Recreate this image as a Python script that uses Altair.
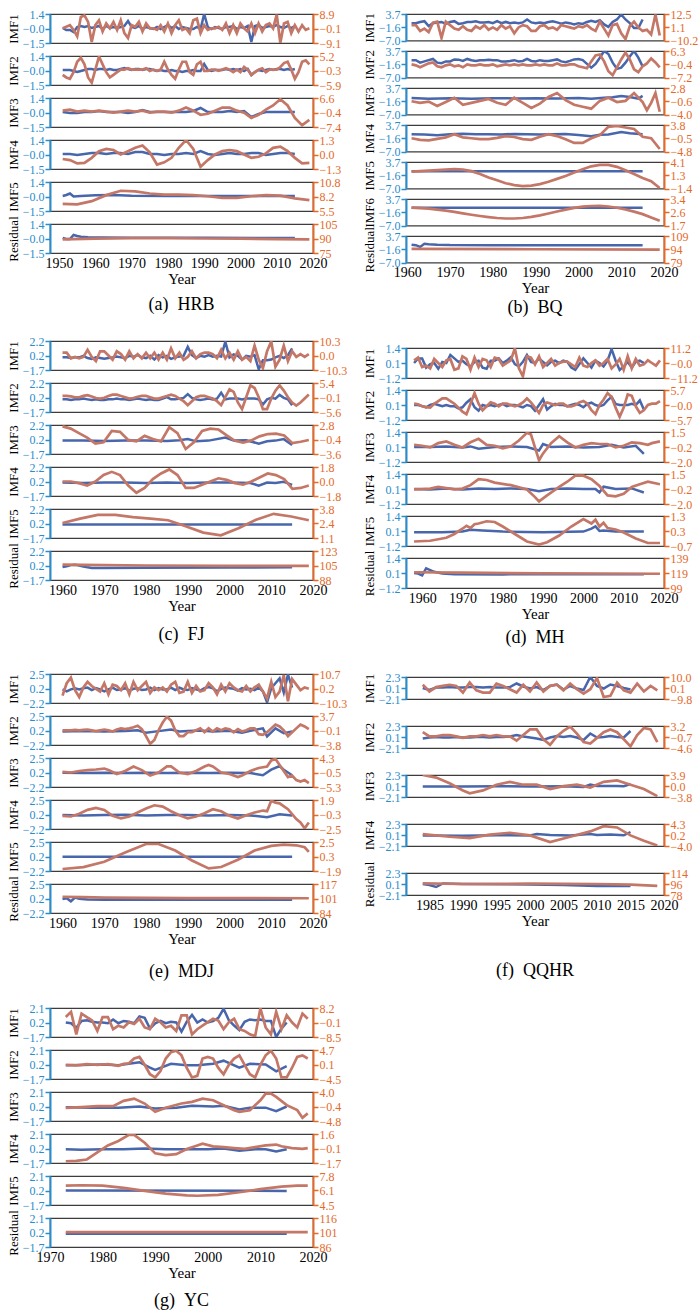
import altair as alt
import pandas as pd

FONT = "Liberation Serif"
BLUE_LINE = "#4866ab"
ORANGE_LINE = "#c47767"
BLUE_AX = "#2b8ccb"
ORANGE_AX = "#e36a2b"
FRAME = "#3c3c3c"

# ------------------------------------------------------------------ (a) HRB
A_XDOM = [1947.5, 2020]
A_XTICKS = [1950, 1960, 1970, 1980, 1990, 2000, 2010, 2020]
A_TITLES = ["IMF1", "IMF2", "IMF3", "IMF4", "IMF5", "Residual"]
A_LDOM = [-1.5, 1.4]
A_LLAB = ["1.4", "\u22120.0", "\u22121.5"]
A_RDOMS = [[-9.1, 8.9], [-5.9, 5.2], [-7.4, 6.6], [-1.3, 1.3], [5.5, 10.8], [75, 105]]
A_RLABS = [["8.9", "\u22120.1", "\u22129.1"], ["5.2", "\u22120.3", "\u22125.9"], ["6.6", "\u22120.4", "\u22127.4"],
           ["1.3", "0.0", "\u22121.3"], ["10.8", "8.2", "5.5"], ["105", "90", "75"]]
A_B1 = [0, -0.2, -0.2, -0.4, 0.1, 0.2, 0.1, 0.2, 0, 0.1, 0.2, -0.1, 0.2, 0, 0.1, 0, 0.1, 0.2, 0.7, 0.1,
        0, 0.2, -0.1, 0.1, 0, -0.1, 0.1, -0.1, 0.1, 0.3, 0, 0.2, -0.1, 0.1, 0, -0.1, -0.1, 0.1, -0.1, 1.4,
        0.1, -0.1, 0.1, 0, -0.1, 0.1, 0.1, 0.2, -0.1, 0.1, 0, 0.2, -1.4, 0.2, 0.3, 0, 0.1, 0.2, 0.1, 0.3,
        0.1, 0, 0.2, 0, 0.2]
A_O1 = [0, 1, 2, -1, -5, 7, 8, 4, -8.5, 2, 5, -2, 3, 0, 4, -1, 5, -3, -6, 2, 1, 4, -2, 3, 0, 0, -1, 2, -2, 3,
        -3, 2, 5, -1, 0, -3, 5, 6, -3, 2, -1, 0, 0, 1, -1, 3, -3, 2, -3, 3, 0, -2, 3, -3, 3, -2, 2, 3, 0, 8.5,
        -9, 3, 4, -3, 2, -2, 2, -1, 0]
A_B2 = [0, 0, 0, -0.1, -0.2, -0.1, 0, 0.1, 0.1, 0, 0.1, 0.1, 0, 0.1, 0, 0, 0.1, 0.2, 0.1, 0,
        0.1, 0.1, 0, 0.1, 0.1, 0, -0.1, 0, -0.1, -0.1, 0, -0.1, -0.1, -0.2, -0.1, -0.1, 0, -0.1, -0.1, 0.6,
        0, -0.1, 0, 0, 0, 0.1, 0, 0.1, 0, 0.1, -0.1, 0.1, -0.5, -0.2, 0, -0.1, 0, 0.1, 0, 0.1,
        0.1, 0, 0.1, 0, 0.1]
A_O2 = [-2, -3, -3.5, -1, 3, 4.5, 2, -3, -5, 0, 5, 2, -1, -3, -2, -1, 0, 0, 0.5, 0, 0, 0, 0, 0.5, -0.5, 0, -0.5, 0, 3, 0,
        -2, -3.5, 0, 3, 3, -1, -2, 2, 3, -0.5, -0.5, 0, 0, -0.5, 0, 0.5, 0, -1, 0, -1, 1, 0, -2, -1, 0, 0.5, -1, 0, 0, 0,
        1, 2.5, 3, 0, -3.5, -1, 3, 3.5, 2]
A_B3 = [0, -0.1, -0.1, 0, 0, 0.1, 0, 0, 0, -0.1, 0, 0.2, 0, 0, 0, 0, 0, 0, 0.1, 0.4, 0, 0, 0, 0.1, 0, 0.1, -0.5, -0.2,
        0, 0, 0, 0, 0]
A_O3 = [0.5, 1, 0, 0.5, 0, 0.5, 0, -0.5, 0, 0.5, 0, 0.5, -0.5, 0, 0, -0.5, 0.5, 2, 0.5, -1.5, -1, 0.5, 2, 2, 0.5, -0.5,
        -3, -1.5, 1, 3, 6, 3, -3, -6.5, -4]
A_B4 = [0, 0, -0.1, 0, 0.1, 0.1, 0, 0.1, 0.1, 0, 0.2, 0.2, 0, 0, -0.1, 0, 0, 0.1, 0, 0.3, 0, -0.1, 0, 0.1, 0, 0, 0.1,
        0.1, -0.1, 0, 0.1, 0.1, 0]
A_O4 = [-0.4, -0.5, -0.8, -0.75, -0.3, 0.3, 0.5, 0.4, 0.0, 0.3, 0.6, 0.8, 0.2, -0.9, -0.7, -0.3, 0.6, 1.3, 0.5, -1.1,
        -0.5, 0.0, 0.3, 0.4, 0.3, 0.0, -0.3, -0.2, 0.1, 0.6, 0.7, 0.3, -0.3, -0.8, -0.75]
A_B5_YEARS = [1951, 1952, 1953, 1954, 1956, 1960, 1965, 1970, 1980, 1990, 2000, 2010, 2015]
A_B5 = [0, 0.1, 0.25, -0.05, 0.0, 0.08, 0.1, 0.03, 0.0, 0.0, 0.0, 0.0, 0.0]
A_O5 = [6.8, 6.7, 7.3, 8.4, 9.2, 9.1, 8.7, 8.5, 8.5, 8.4, 8.2, 7.9, 7.9, 8.2, 8.4, 8.3, 7.8, 7.5]
A_BR_YEARS = [1951, 1952, 1953, 1954, 1955, 1956, 1958, 1962, 1970, 1990, 2015]
A_BR = [0.0, -0.1, -0.1, 0.3, 0.2, 0.12, 0.08, 0.05, 0.03, 0.02, 0.0]
A_OR_YEARS = [1951, 1960, 1970, 1980, 1990, 2000, 2010, 2019]
A_OR = [89.0, 89.8, 90.3, 90.3, 90.0, 89.8, 89.3, 89.0]

# ------------------------------------------------------------------ (b) BQ
B_XDOM = [1959.7, 2020]
B_XTICKS = [1960, 1970, 1980, 1990, 2000, 2010, 2020]
B_TITLES = ["IMF1", "IMF2", "IMF3", "IMF4", "IMF5", "IMF6", "Residual"]
B_LDOM = [-7.0, 3.7]
B_LLAB = ["3.7", "\u22121.6", "\u22127.0"]
B_RDOMS = [[-10.2, 12.5], [-7.2, 6.3], [-4.0, 2.8], [-4.8, 3.8], [-1.4, 4.1], [1.7, 3.4], [79, 109]]
B_RLABS = [["12.5", "1.1", "\u221210.2"], ["6.3", "\u22120.4", "\u22127.2"], ["2.8", "\u22120.6", "\u22124.0"],
           ["3.8", "\u22120.5", "\u22124.8"], ["4.1", "1.3", "\u22121.4"], ["3.4", "2.6", "1.7"], ["109", "94", "79"]]
B_B1 = [0, 0, 0.5, 0.8, -1.2, 0, 0.3, 0.5, -0.3, 0.5, 0.8, -0.3, 0, 0.5, 0.5, 0.8, 0.3, 0.3, 0.5, 0,
        0.8, 0, 0.5, 0, 0.3, 0, 0.3, 1.5, 0.3, 0, 0.3, 0, 0.5, 0.8, 0.3, -0.2, 0.3, 0, -0.5, 0,
        -0.3, 0.5, 1.0, 0.5, 1.2, -0.5, -1.5, 0.5, 1.5, 3.5, 1.5, 0, -2, -2, 1.5]
B_O1 = [3, 3, -2, 0, -3, 5, 6, -8, 6, 3, 0, -1, 2, -1, -2, 2, 0, 3, -1, 1, -1, 3, 0, 2, -4, 1, 3, 2, -2, -2,
        2, 3, 0, 1, -1, 3, 2, 1, 0, 2, 1, 3, 0, -2, 6, 0, -6, 3, 4, -4, -9, 2, 6, 1, -2, -1, -5, 12, -6]
B_B2 = [0, 0, -1, -0.5, 0, 0.5, -1, -1.2, -0.5, -0.5, 0.3, 0.2, -0.3, 0.5, 0, -0.3, 0, 0, 0.2, 0,
        0, -0.5, -0.5, -0.3, 0, -0.5, -0.3, 0.5, -0.3, -0.5, 0, -0.3, -0.3, 0, 0.3, -0.5, -0.8, -0.3, 0.3, 0.5,
        0, -1.5, -3, -1.5, 1, 3.7, 2.5, -1, -3.5, -3, -1, 1.5, 3.7, 1, -2.5]
B_O2 = [-0.5, -1, -2, -1, 0, 0.5, -1.5, -2, -1, -0.5, -1.5, -1, -2, -0.5, -1, -1, -0.5, -1, -1, -0.5,
        -1.5, -1, -0.5, -1, -0.5, -1, -0.5, -1, -1, -0.5, -1, -0.5, -1, -1, 0, -1, -1, -0.5, -0.5, -1.5,
        -2, -2.5, 1, 4, 4.5, 1, -4, -6, -2, 2, 5.5, 2, -3, -4.5, -1.5, 0, 2.5, 0.5, -2]
B_B3_YEARS = [1961, 1965, 1970, 1975, 1980, 1985, 1990, 1995, 2000, 2003, 2006, 2008, 2010, 2012, 2014, 2015]
B_B3 = [-0.3, -0.6, -0.4, -0.6, -0.4, -0.5, -0.4, -0.5, -0.3, -0.6, -0.2, 0.0, 0.5, 0.1, -0.6, 0.5]
B_O3_YEARS = list(range(1961, 2014, 2)) + [2015, 2016, 2017, 2018, 2019]
B_O3 = [-0.6, -1.0, -0.7, -1.8, -0.8, 0.3, -1.5, -1.0, -0.5, 0.0, -1.0, -1.5, 0.3, -1.0, -2.3, -1.2, 0.5, 1.5,
        -0.3, -1.5, -2.0, -2.5, -0.5, 0.3, -0.8, -0.5, 1.5, -0.8, -2.9, -1.0, 1.5, -3.3]
B_B4_YEARS = [1961, 1964, 1967, 1970, 1973, 1976, 1979, 1982, 1985, 1988, 1991, 1994, 1997, 2000, 2003, 2005,
              2007, 2010, 2012, 2015]
B_B4 = [0.0, -0.1, -0.4, 0.0, 0.2, 0.0, 0.0, -0.1, 0.1, 0.0, -0.1, 0.0, 0.1, -0.3, -0.8, -0.2, -0.1, 0.9, 0.4, 0.0]
B_O4 = [-0.5, -1.0, -1.2, -0.7, -0.2, 0.8, -0.2, -0.5, -0.8, -0.8, -0.4, 0.2, -0.1, -0.8, -1.0, 0.0, 0.8, 0.2,
        -0.8, -2.0, -2.0, -0.5, 0.5, 3.2, 3.5, 3.0, 2.5, 0.0, -0.5, -4.0]
B_B5_YEARS = [1961, 1980, 2000, 2015]
B_B5 = [0.0, 0.0, 0.0, 0.0]
B_O5 = [2.1, 2.2, 2.3, 2.4, 2.5, 2.6, 2.5, 2.2, 1.6, 0.9, 0.3, -0.3, -0.7, -0.9, -0.8, -0.5, 0.0, 0.6, 1.2, 1.9,
        2.6, 3.2, 3.5, 3.5, 3.1, 2.4, 1.6, 0.8, 0.1, -1.3]
B_B6_YEARS = [1961, 2015]
B_B6 = [0.2, 0.2]
B_O6 = [2.85, 2.82, 2.78, 2.72, 2.65, 2.57, 2.48, 2.39, 2.31, 2.24, 2.18, 2.15, 2.15, 2.18, 2.25, 2.35, 2.47, 2.6,
        2.72, 2.83, 2.91, 2.95, 2.96, 2.92, 2.84, 2.73, 2.59, 2.43, 2.22, 2.0]
B_BR_YEARS = [1961, 1962, 1963, 1964, 1965, 1967, 1970, 1980, 2000, 2015]
B_BR = [0.2, 0.0, -0.7, 0.6, 0.4, 0.2, 0.05, 0.0, 0.0, 0.0]
B_OR_YEARS = [1961, 1990, 2019]
B_OR = [94.5, 94.0, 93.5]

# ------------------------------------------------------------------ (c) FJ
C_XDOM = [1957, 2020]
C_XTICKS = [1960, 1970, 1980, 1990, 2000, 2010, 2020]
C_TITLES = ["IMF1", "IMF2", "IMF3", "IMF4", "IMF5", "Residual"]
C_LDOM = [-1.7, 2.2]
C_LLAB = ["2.2", "0.2", "\u22121.7"]
C_RDOMS = [[-10.3, 10.3], [-5.6, 5.4], [-3.6, 2.8], [-1.8, 1.8], [1.1, 3.8], [88, 123]]
C_RLABS = [["10.3", "0.0", "\u221210.3"], ["5.4", "\u22120.1", "\u22125.6"], ["2.8", "\u22120.4", "\u22123.6"],
           ["1.8", "0.0", "\u22121.8"], ["3.8", "2.4", "1.1"], ["123", "105", "88"]]
C_B1 = [0, 0, -0.1, 0, 0, 0.2, -0.1, -0.2, 0, -0.1, -0.2, -0.1, 0, 0.1, 0, -0.1, 0.2, 0.1, 0.3, 0,
        -0.1, 0.2, -0.3, 0.3, 0, 0.2, -0.2, 0, 0.1, 0.2, 1.4, 0.3, -0.1, 0.2, 0.1, 0.3, 0.1, 0.2, 0.1, 2.1,
        0, 0.4, 0.2, -0.3, 0.2, 0.1, 0.3, -1.6, -0.4, -0.4, -0.3, 0, 0.2, -0.1, 0.3, 1.2]
C_O1 = [2, 2, -2, -1, -2, -1, 4, -1, -4, 3, 3, 0, -3, 3, 1, -3, 3, -2, 1, -2, 2, -2, 2, -3, 2, -3, 5, -2, 2, -3,
        -1, 3, -2, 1, 2, 2, 1, -2, 4, -2, 2, -3, 3, -3, -1, -4, 7, -3, -9, 3, 10, -8, -3, 7, -4, 3, -1, 1, -1, 1]
C_B2 = [0, 0, -0.1, 0, 0, 0.1, 0, -0.1, 0, -0.1, -0.1, 0, 0, 0.1, 0, 0, -0.1, 0, 0.1, 0,
        -0.1, 0, -0.1, -0.1, 0.1, 0.3, 0, 0, 0.1, 0.2, 0.7, 0.2, 0, -0.1, 0, 0.1, 0, 0.1, 0.9, 0,
        0.1, 0.1, 0.1, 0, 0.1, 0.1, 0.1, 0, -0.7, 0, 0.2, 0.1, 0.6, 0.2, 0, -0.8]
C_O2 = [0.5, 0.5, 0.3, 0, 0, 0.5, 0.8, 0.3, -0.3, -0.5, -0.2, 0.5, 1, 1, 0.5, 0, -0.5, -0.3, 0.2, 0.5,
        0.5, 0, -0.5, -0.5, 0, 0.5, 1, 0.5, -0.5, -1.5, -3, -1.5, 0, 0.5, 0.5, 0, -0.5, -1.5, -3, 0,
        3, 2, -2, -4.5, 0, 4.5, 3.5, 0, -4.5, -4.5, -0.5, 2.5, 4.5, 2.5, 0, -2, -3.2, -2, -0.5, 1]
C_B3_YEARS = [1960, 1965, 1970, 1975, 1980, 1985, 1988, 1990, 1992, 1995, 1999, 2001, 2004, 2007, 2009, 2011,
              2013, 2015]
C_B3 = [0.1, 0.1, 0.05, 0.1, 0.1, 0.05, 0.15, 0.3, 0.0, 0.1, 0.5, 0.1, 0.15, -0.3, 0.0, 0.1, 0.3, -0.5]
C_O3 = [2.5, 2.0, 1.0, 0.0, -1.3, -1.0, 1.5, 1.3, -0.5, -0.8, 0.4, -0.3, -0.8, 2.3, 1.0, -2.5, -1.0, 1.5, 2.0, 1.8,
        0.5, -0.7, -1.1, -0.6, 0.3, 0.8, 0.9, 0.5, -1.2, -0.9, -0.5]
C_B4_YEARS = [1960, 1965, 1970, 1975, 1980, 1985, 1990, 1995, 2000, 2005, 2007, 2009, 2011, 2013, 2015]
C_B4 = [0.1, 0.05, 0.1, 0.1, 0.05, 0.1, 0.05, 0.1, 0.1, 0.05, -0.3, 0.1, 0.05, 0.2, -0.2]
C_O4 = [0, 0, -0.2, -0.5, 0, 0.8, 1.2, 0.8, -0.5, -1.4, -0.8, 0.3, 1.0, 1.5, 0.8, -0.8, -0.8, -0.4, 0, 0.4, 0.2,
        -0.2, -0.4, 0, 0.5, 1.0, 0.8, 0.3, -0.9, -0.8, -0.5]
C_B5_YEARS = [1960, 2015]
C_B5 = [0.1, 0.1]
C_O5 = [2.5, 2.9, 3.25, 3.25, 3.05, 2.9, 2.75, 2.2, 1.6, 1.35, 2.0, 2.8, 3.35, 3.1, 2.75]
C_BR_YEARS = [1960, 1961, 1962, 1963, 1964, 1965, 1966, 1967, 1970, 1980, 2000, 2015]
C_BR = [0.05, 0.15, 0.3, 0.35, 0.25, 0.1, 0.0, -0.08, -0.1, -0.05, -0.03, 0.0]
C_OR_YEARS = [1960, 1965, 1980, 2000, 2019]
C_OR = [106.5, 106.2, 105.5, 105.0, 105.0]

# ------------------------------------------------------------------ (d) MH
D_XDOM = [1956, 2020]
D_XTICKS = [1960, 1970, 1980, 1990, 2000, 2010, 2020]
D_TITLES = ["IMF1", "IMF2", "IMF3", "IMF4", "IMF5", "Residual"]
D_LDOM = [-1.2, 1.4]
D_LLAB = ["1.4", "0.1", "\u22121.2"]
D_RDOMS = [[-11.2, 11.2], [-5.7, 5.7], [-2.0, 1.5], [-2.0, 1.5], [-0.7, 1.3], [99, 139]]
D_RLABS = [["11.2", "\u22120.0", "\u221211.2"], ["5.7", "\u22120.0", "\u22125.7"], ["1.5", "\u22120.2", "\u22122.0"],
           ["1.5", "\u22120.2", "\u22122.0"], ["1.3", "0.3", "\u22120.7"], ["139", "119", "99"]]
D_B1 = [0.1, 0.5, 0.5, -0.3, 0, 0.1, -0.4, 0.2, 0.1, 0.8, 0.5, 0.2, 0.3, 0, -0.2, 0.2, 0.3, -0.3, -0.4, 0.3,
        0.3, 0.5, 0.1, 0.3, 0.6, 0, -0.2, 0.2, 0.8, 0.2, 0.1, 0.5, 0.2, -0.1, 0.2, 0.3, 0.1, 0.3, 0.2, -0.3,
        -0.5, 0, 0.5, 0.1, -0.3, 0.3, 0.1, -0.2, 0.3, 1.3, 0.3, -0.5, -0.2, 0.2, -0.3, 0.2, 0.3, 0.1]
D_O1 = [2, 4, -3, -2, -4, 3, 0, -3, 2, 3, -5, -4, 5, 3, -5, 4, -3, 3, 2, -3, 4, 3, -2, 0, 2, 11, -4, -10, 5, 4,
        -1, 5, -3, 0, 3, -2, 0, 1, 1, -1, -3, 4, -2, -3, 0, 2, -2, 0, 3, -4, -1, 3, -5, 5, -4, 3, -2, -1, 2, 0,
        -2, 2]
D_B2 = [0.1, 0.1, 0, -0.1, 0.1, 0.2, 0.1, 0, 0.1, 0, 0, -0.2, -0.1, 0.3, 0.6, -0.1, -0.4, 0.1, 0, 0.1,
        0, 0.1, 0.2, 0, 0.1, 0.1, 0, -0.1, 0.1, 0, -0.4, 0.1, 0.6, -0.3, 0, 0.2, 0.1, 0.1, 0, 0.1,
        0.2, 0.1, -0.1, 0.2, 0.3, 0.1, 0, 0.1, 0.5, 0.8, 0.2, 0.1, 0.1, 0.1, 0.2, 0.1, 0.5, -0.3]
D_O2 = [0.5, 0.3, -0.5, -0.8, -1, 0.5, 1.5, 2.5, 2.5, 1.5, 0.5, -1, -2.5, -3.5, 0.5, 4.5, 0.5, -2, -0.5, 1,
        0.5, -0.5, 0.5, 0.5, 0, -0.5, 0, 1, 2.5, 1, -1, -3, 0, 1, 0.5, 0, 0.5, 0.5, -0.5, -0.5,
        0, 1, 1.5, 0.5, -2, -3.5, 0, 2, 4.5, 3, -1, -4.5, -1, 4, 3.5, -0.5, -3, -2, 0, 0.5, 0.5, 1.5]
D_B3_YEARS = [1958, 1962, 1966, 1970, 1972, 1974, 1978, 1982, 1986, 1989, 1990, 1992, 1996, 2000, 2004, 2007,
              2010, 2013, 2015]
D_B3 = [0.1, 0.1, 0.15, 0.05, 0.15, -0.05, 0.1, 0.15, 0.1, -0.2, 0.35, 0.1, 0.15, 0.05, 0.1, 0.3, 0.05, 0.2, -0.5]
D_O3_YEARS = [1958, 1960, 1962, 1964, 1966, 1968, 1970, 1972, 1974, 1976, 1978, 1980, 1982, 1984, 1986, 1987,
              1989, 1990, 1992, 1994, 1996, 1998, 2000, 2002, 2004, 2006, 2008, 2010, 2012, 2014, 2016, 2017, 2019]
D_O3 = [0.0, -0.1, -0.3, 0.2, 0.4, 0.0, -0.3, 0.3, 0.7, 0.0, -0.1, -0.4, -0.2, 0.5, 1.4, 1.2, -1.8, -1.0, 0.2,
        1.0, 0.3, -0.3, 0.0, 0.2, 0.1, 0.1, -0.3, -0.1, 0.3, 0.2, 0.0, 0.2, 0.4]
D_B4_YEARS = [1958, 1962, 1966, 1970, 1974, 1978, 1982, 1986, 1989, 1992, 1996, 2000, 2003, 2004, 2005, 2008,
              2012, 2015]
D_B4 = [0.1, 0.05, 0.15, 0.05, 0.15, 0.1, 0.15, 0.1, -0.1, 0.1, 0.15, 0.1, 0.1, -0.2, 0.3, 0.1, 0.15, -0.2]
D_O4_YEARS = [1958, 1962, 1964, 1968, 1970, 1972, 1974, 1976, 1978, 1982, 1986, 1988, 1989, 1991, 1994, 1996,
              1998, 2000, 2002, 2004, 2006, 2008, 2010, 2012, 2014, 2016, 2019]
D_O4 = [-0.3, -0.2, 0.0, -0.3, -0.2, 0.2, 0.9, 0.8, 0.5, 0.2, -0.3, -1.2, -1.7, -1.0, 0.0, 0.6, 1.3, 1.3, 0.9,
        0.1, -1.0, -1.1, -0.8, 0.0, 0.3, 0.6, 0.3]
D_B5_YEARS = [1958, 1965, 1970, 1972, 1975, 1980, 1990, 2000, 2002, 2003, 2004, 2005, 2008, 2015]
D_B5 = [0.0, 0.0, 0.05, 0.2, 0.15, 0.05, 0.0, 0.05, 0.3, 0.5, 0.1, 0.15, 0.05, 0.05]
D_O5_YEARS = [1958, 1962, 1966, 1968, 1970, 1971, 1972, 1973, 1974, 1976, 1978, 1980, 1983, 1986, 1989, 1991,
              1994, 1997, 2000, 2002, 2003, 2004, 2005, 2006, 2008, 2010, 2013, 2016, 2019]
D_O5 = [-0.4, -0.35, -0.15, 0.1, 0.45, 0.65, 0.5, 0.75, 0.8, 0.95, 0.9, 0.6, 0.1, -0.4, -0.6, -0.45, 0.0, 0.6,
        1.1, 0.8, 1.05, 0.6, 0.85, 0.5, 0.4, 0.2, -0.2, -0.5, -0.5]
D_BR_YEARS = [1958, 1959, 1960, 1961, 1962, 1963, 1965, 1968, 1980, 2000, 2015]
D_BR = [0.1, 0.05, -0.1, 0.5, 0.35, 0.2, 0.05, 0.0, -0.02, 0.0, 0.0]
D_OR_YEARS = [1958, 1970, 1990, 2019]
D_OR = [120, 119.5, 118.5, 118]

# ------------------------------------------------------------------ (e) MDJ
E_XDOM = [1957, 2020]
E_XTICKS = [1960, 1970, 1980, 1990, 2000, 2010, 2020]
E_TITLES = ["IMF1", "IMF2", "IMF3", "IMF4", "IMF5", "Residual"]
E_LDOM = [-2.2, 2.5]
E_LLAB = ["2.5", "0.2", "\u22122.2"]
E_RDOMS = [[-10.3, 10.7], [-3.8, 3.7], [-5.3, 4.3], [-2.5, 1.9], [-1.9, 2.5], [84, 117]]
E_RLABS = [["10.7", "0.2", "\u221210.3"], ["3.7", "\u22120.1", "\u22123.8"], ["4.3", "\u22120.5", "\u22125.3"],
           ["1.9", "\u22120.3", "\u22122.5"], ["2.5", "0.3", "\u22121.9"], ["117", "101", "84"]]
E_B1 = [0, -0.3, 0, 0.2, 0, 0.2, 0.3, -0.1, 0.2, 0, -0.3, 0, 0.3, -0.1, 0, 0.2, -0.2, 0.1, 0.2, -0.1,
        0, 0.3, -0.1, 0.2, 0, 0, 0.3, -0.1, 0.3, 0, -0.1, 0.2, 0, -0.2, 0.2, 0.4, 0.2, -0.3, 0.1, 0.3,
        0.2, 0.1, -0.2, 0.2, 0, 0.1, -0.1, 0.3, -0.3, -2.1, 0.2, 1.0, 1.8, -0.5, 2.4, 0.3]
E_O1 = [-5, 4, 8, -1, -6, 1, 5, 2, 0, -2, 4, -4, 3, 2, -1, 4, -4, 5, -1, 2, 5, -3, 1, -1, 1, -2, 3, 5, -3, -2,
        5, -3, 2, -2, -1, 4, 1, -4, 3, -2, 4, 1, -1, -2, 2, -2, 1, 3, -2, -7, 5, -6, -2, 10, -9, 7, 3, -1, 1, 0]
E_B2_YEARS = [1960, 1965, 1970, 1975, 1978, 1980, 1983, 1986, 1988, 1990, 1993, 1996, 2000, 2003, 2005, 2008,
              2009, 2011, 2013, 2015]
E_B2 = [0.0, 0.05, 0.0, 0.05, 0.2, -0.2, 0.05, 0.3, 0.0, 0.05, 0.15, 0.0, 0.1, -0.2, 0.1, 0.5, -0.8, 0.5, -0.3, 0.0]
E_O2 = [0, 0, 0, 0.1, 0, 0.1, 0.2, 0, -0.2, 0, 0.2, 0, -0.3, 0.2, 0.5, 0.3, 0.5, 0.8, 1.2, 0.3,
        -1.5, -3.5, -2.5, 0, 2, 3.5, 2.5, 0, -1.5, -1.5, -0.5, -0.5, 0, 0.5, -0.5, 0.5, -0.3, 0.5, 0, 0.5,
        0.3, -0.5, 0.3, -0.3, 0, 0.5, 0.5, -1, -1.2, -0.5, 0.5, 1.5, 1, 0, -1.5, -0.5, 0.5, 1.5, 1, 0.3]
E_B3_YEARS = [1960, 1965, 1970, 1975, 1980, 1985, 1990, 1995, 2000, 2005, 2008, 2010, 2012, 2013, 2015]
E_B3 = [0.1, 0.05, 0.1, 0.05, 0.1, 0.05, 0.1, 0.05, 0.1, 0.05, -0.3, 0.6, 1.2, 0.6, -0.3]
E_O3_YEARS = [1960, 1962, 1964, 1966, 1968, 1970, 1971, 1973, 1975, 1977, 1979, 1981, 1983, 1985, 1986, 1988,
              1990, 1992, 1994, 1995, 1996, 1998, 2000, 2002, 2003, 2005, 2007, 2009, 2010, 2011, 2012, 2014,
              2015, 2016, 2017, 2018, 2019]
E_O3 = [-0.3, -0.5, 0.0, 0.3, 0.5, 0.8, 0.3, -1.0, 0.0, 1.5, 0.3, -1.5, -0.5, 1.5, 1.5, -0.5, -1.0, 0.0, 1.5,
        2.0, 1.5, -0.5, -1.0, -2.0, -1.5, 0.0, 1.0, 1.5, 3.5, 4.0, 2.0, -2.0, -1.5, -3.0, -3.5, -3.0, -4.0]
E_B4_YEARS = [1960, 1965, 1970, 1975, 1980, 1985, 1990, 1995, 2000, 2005, 2009, 2012, 2015]
E_B4 = [0.05, 0.0, 0.05, 0.1, 0.0, 0.05, 0.05, 0.0, 0.05, 0.0, -0.3, 0.2, 0.0]
E_O4_YEARS = list(range(1960, 2009, 2)) + [2009, 2010, 2011, 2012, 2014, 2016, 2017, 2018, 2019]
E_O4 = [-0.5, -0.6, -0.2, 0.4, 0.7, 0.4, -0.5, -0.9, -0.6, 0.0, 0.6, 1.1, 0.9, 0.2, -0.4, -0.9, -0.6, -0.1, 0.5,
        0.2, -0.5, -0.9, -0.4, 0.0, 0.3, 0.2, 1.8, 1.5, 1.4, 0.5, -1.0, -1.5, -2.4, -1.5]
E_B5_YEARS = [1960, 2015]
E_B5 = [0.1, 0.1]
E_O5_YEARS = [1960, 1965, 1970, 1975, 1980, 1983, 1987, 1991, 1995, 1998, 2002, 2006, 2010, 2013, 2016, 2018, 2019]
E_O5 = [-1.6, -1.3, -0.5, 0.9, 2.2, 2.2, 1.2, -0.3, -1.5, -1.3, -0.2, 1.2, 1.9, 2.1, 2.0, 1.7, 1.0]
E_BR_YEARS = [1960, 1961, 1962, 1963, 1964, 1966, 1970, 1990, 2015]
E_BR = [0.05, 0.2, -0.3, 0.3, 0.1, 0.0, -0.05, -0.05, -0.05]
E_OR_YEARS = [1960, 1965, 1970, 1990, 2019]
E_OR = [102.5, 102.0, 101.5, 101.0, 100.8]

# ------------------------------------------------------------------ (f) QQHR
F_XDOM = [1981.5, 2020]
F_XTICKS = [1985, 1990, 1995, 2000, 2005, 2010, 2015, 2020]
F_TITLES = ["IMF1", "IMF2", "IMF3", "IMF4", "Residual"]
F_LDOM = [-2.1, 2.3]
F_LLAB = ["2.3", "0.1", "\u22122.1"]
F_RDOMS = [[-9.8, 10.0], [-4.6, 3.2], [-3.8, 3.9], [-4.0, 4.3], [78, 114]]
F_RLABS = [["10.0", "0.1", "\u22129.8"], ["3.2", "\u22120.7", "\u22124.6"], ["3.9", "0.0", "\u22123.8"],
           ["4.3", "0.2", "\u22124.0"], ["114", "96", "78"]]
F_B1 = [0.1, -0.3, 0.2, 0.2, 0.3, 0.2, 0.2, 0.3, 0.3, 0.2, 0.3, 0.2, 0.2, 0.3, 1.0, 0.4, 0, 0.3, -0.3, 0.5,
        0.8, -0.2, 0.5, 0, -0.3, 2.3, 0.5, 0, 0.8, 0.5, 0.1, -0.2]
F_O1 = [3, -3, 1, 2, 3, 2, -4, 5, -2, -4, -4, 4, 2, -1, -4, 3, -3, 5, -3, 2, 3, -2, 4, -1, -5, -1, 9, -8, -7, 5,
        -2, -4, 4, -3, 2, -2]
F_B2 = [-0.2, 0, 0.1, 0, 0, 0.1, 0, 0, 0.1, 0.1, 0, 0.1, 0.1, 0.2, 0.5, 0.2, 0, -0.2, -0.5, 0, 0.3, 0.1, 0.3, 0,
        -0.5, 0.8, 0, 0.1, 0.3, 0.1, 0, 1.3]
F_O2 = [1.0, -0.5, -0.5, 0, 0, -0.5, -1.0, -0.5, -0.5, 0, -0.5, 0, -0.5, -0.5, -2.0, 0, 2.0, 2.0, -1.5, -3.5,
        -0.5, 1.5, 3.0, 0.5, -2.5, -3.0, -1.0, 1.0, 2.0, 1.0, -1.5, -4.0, 0, 2.5, 2.0, -2.5]
F_B3_YEARS = [1984, 1990, 1995, 2000, 2005, 2008, 2009, 2010, 2013, 2014, 2015]
F_B3 = [0.0, 0.0, 0.05, 0.0, 0.05, -0.1, 0.4, 0.1, 0.1, 0.05, 0.5]
F_O3_YEARS = [1984, 1986, 1988, 1990, 1991, 1993, 1995, 1997, 1999, 2001, 2003, 2005, 2007, 2009, 2011, 2013,
              2015, 2017, 2019]
F_O3 = [3.9, 3.0, 1.0, -1.5, -2.5, -1.5, 0.5, 1.5, 0.5, 0.5, -1.0, 0.0, 0.5, -0.5, 1.5, 2.0, 0.5, -1.0, -3.5]
F_B4_YEARS = [1984, 1990, 1995, 2000, 2001, 2003, 2006, 2009, 2010, 2012, 2014, 2015]
F_B4 = [0.0, -0.05, 0.05, 0.0, 0.3, 0.1, 0.0, 0.3, 0.1, 0.2, 0.05, 0.7]
F_O4_YEARS = [1984, 1988, 1991, 1994, 1997, 2000, 2003, 2006, 2009, 2011, 2013, 2015, 2017, 2019]
F_O4 = [0.5, -0.5, -1.0, 0.3, 1.0, 0.0, -2.5, -0.5, 1.5, 3.5, 3.0, 0.0, -2.0, -3.8]
F_BR_YEARS = [1984, 1985, 1986, 1987, 1990, 2000, 2005, 2010, 2015]
F_BR = [0.1, -0.1, -0.5, 0.2, 0.1, 0.0, -0.1, -0.3, -0.3]
F_OR_YEARS = [1984, 1990, 2000, 2010, 2015, 2019]
F_OR = [97, 96, 96.5, 96, 95, 93]

# ------------------------------------------------------------------ (g) YC
G_XDOM = [1970, 2020]
G_XTICKS = [1970, 1980, 1990, 2000, 2010, 2020]
G_TITLES = ["IMF1", "IMF2", "IMF3", "IMF4", "IMF5", "Residual"]
G_LDOM = [-1.7, 2.1]
G_LLAB = ["2.1", "0.2", "\u22121.7"]
G_RDOMS = [[-8.5, 8.2], [-4.5, 4.7], [-4.8, 4.0], [-1.7, 1.6], [4.5, 7.8], [86, 116]]
G_RLABS = [["8.2", "\u22120.1", "\u22128.5"], ["4.7", "0.1", "\u22124.5"], ["4.0", "\u22120.4", "\u22124.8"],
           ["1.6", "\u22120.1", "\u22121.7"], ["7.8", "6.1", "4.5"], ["116", "101", "86"]]
G_B1 = [0.2, 0.1, -0.5, 0.4, 0.5, 0.3, 0.2, 0.2, 0.1, 0.6, 0.1, 0.4, 0.3, 0.1, 1.0, 0.8, -0.6, 0.1, 0.4, 0.1,
        0.3, 0.2, -1.0, 0.3, 1.2, 0.2, 0.6, 0.2, 0.4, 0.8, 2.0, 0.5, -0.2, -0.8, 0.3, 0.6, 0.5, 0.6, 0.4, 0.4,
        -1.7, -0.6, 0.2]
G_O1 = [3, 6, -7, 5, 3, 1, -5, 3, 3, -4, -2, -3, 0, -1, 2, -3, -4, 2, 0, -3, -2, -5, 4, 4, -7, -4, -2, 0, 2, 1,
        -4, 0, 2, -4, -5, -7, -8, 8, -3, -7, 6, -4, 4, 0, -3, 5, 2]
G_B2_YEARS = [1973, 1976, 1980, 1983, 1987, 1989, 1990, 1993, 1996, 1998, 2001, 2003, 2006, 2008, 2011, 2013, 2015]
G_B2 = [0.1, 0.15, 0.2, 0.1, 0.5, -0.2, -0.5, 0.3, 0.1, 0.1, 0.3, 0.7, -0.2, 0.3, 0.2, -0.7, 0.0]
G_O2 = [0, -0.1, -0.2, 0, 0.2, 0.1, 0, 0.1, 0.2, 0, -0.3, 0.3, 0.5, 2.0, 2.5, 0, -3.0, -4.0, -2.0, 2.0,
        4.0, 4.5, 3.0, -1.0, -4.0, -3.5, 2.0, 2.5, 2.0, -1.0, -3.0, 0, 2.0, 3.0, 0, -3.0, -4.0, 0, 3.0, 4.5,
        2.0, -4.0, -4.0, -1.0, 2.5, 3.0, 2.0]
G_B3_YEARS = [1973, 1978, 1983, 1987, 1990, 1994, 1997, 2001, 2003, 2006, 2008, 2011, 2013, 2015]
G_B3 = [0.1, 0.05, 0.05, 0.2, -0.05, 0.05, 0.3, 0.2, 0.3, -0.2, 0.05, 0.05, -0.4, 0.2]
G_O3_YEARS = [1973, 1976, 1979, 1982, 1984, 1986, 1988, 1990, 1992, 1995, 1997, 1999, 2001, 2003, 2005, 2006,
              2008, 2010, 2011, 2012, 2013, 2015, 2017, 2018, 2019]
G_O3 = [-0.8, -0.6, -0.3, -0.3, 1.3, 2.0, 0.5, -2.0, -0.8, 0.5, 1.0, 2.0, 1.5, 0.0, -1.5, -2.0, -1.5, 1.5, 3.5,
        3.5, 2.5, 0.0, -1.5, -3.8, -2.5]
G_B4_YEARS = [1973, 1976, 1980, 1984, 1988, 1992, 1996, 2000, 2003, 2006, 2009, 2011, 2013, 2015]
G_B4 = [0.1, 0.05, 0.1, 0.1, 0.2, 0.1, 0.1, 0.1, 0.2, -0.1, 0.1, 0.1, -0.2, 0.1]
G_O4_YEARS = [1973, 1975, 1977, 1979, 1981, 1983, 1985, 1986, 1988, 1990, 1992, 1994, 1996, 1998, 1999, 2001,
              2003, 2005, 2007, 2009, 2011, 2013, 2014, 2016, 2018, 2019]
G_O4 = [-1.5, -1.45, -1.3, -0.5, 0.3, 0.8, 1.5, 1.5, 0.6, -0.6, -0.8, -0.7, -0.1, 0.3, 0.5, 0.2, 0.1, 0.0, -0.1,
        0.1, 0.3, 0.4, 0.2, 0.0, -0.1, 0.0]
G_B5_YEARS = [1973, 2015]
G_B5 = [0.2, 0.15]
G_O5_YEARS = [1973, 1976, 1980, 1984, 1988, 1992, 1996, 1998, 2002, 2006, 2010, 2014, 2017, 2019]
G_O5 = [6.7, 6.75, 6.7, 6.45, 6.1, 5.8, 5.6, 5.55, 5.65, 5.95, 6.3, 6.6, 6.7, 6.7]
G_BR_YEARS = [1973, 2015]
G_BR = [0.05, 0.05]
G_OR_YEARS = [1973, 2019]
G_OR = [101.3, 101.3]


# ------------------------------------------------------------------ helpers
def ev(start, end, vals):
    n = len(vals)
    step = (end - start) / (n - 1)
    return [start + step * i for i in range(n)], list(vals)


def ex(years, vals):
    n = min(len(years), len(vals))
    return list(years[:n]), list(vals[:n])


def yaxis(orient, color, dom, lab, title):
    mid = (dom[0] + dom[1]) / 2.0
    eps = (dom[1] - dom[0]) * 0.1
    expr = (f"datum.value < {mid - eps} ? '{lab[2]}' : "
            f"(datum.value > {mid + eps} ? '{lab[0]}' : '{lab[1]}')")
    kw = dict(orient=orient, values=[dom[0], mid, dom[1]], labelExpr=expr, labelFont=FONT,
              labelFontSize=12, labelColor=color, labelPadding=1, labelOverlap=False,
              domainColor=color, domainWidth=2, tickColor=color, tickWidth=1.5, tickSize=5,
              grid=False)
    if title:
        kw.update(title=title, titleFont=FONT, titleFontSize=13, titleFontWeight="normal",
                  titleColor="black", titlePadding=2)
    else:
        kw.update(title="")
    return alt.Axis(**kw)


def sub(title, bser, oser, ldom, llab, rdom, rlab, xdom, xticks, w, h, last):
    bdf = pd.DataFrame({"Year": bser[0], "v": bser[1]})
    odf = pd.DataFrame({"Year": oser[0], "v": oser[1]})
    xs = alt.Scale(domain=xdom, nice=False, zero=False)
    if last:
        xa = alt.Axis(values=xticks, format="d", labelFont=FONT, labelFontSize=14, labelColor="black",
                      labelFlush=False, labelPadding=3, ticks=False, domain=False, grid=False,
                      title="Year", titleFont=FONT, titleFontSize=15, titleFontWeight="normal",
                      titleColor="black", titlePadding=1)
        xenc = alt.X("Year:Q", scale=xs, axis=xa)
    else:
        xenc = alt.X("Year:Q", scale=xs, axis=None)
    bl = alt.Chart(bdf).mark_line(color=BLUE_LINE, strokeWidth=2.5, clip=True).encode(
        x=xenc,
        y=alt.Y("v:Q", scale=alt.Scale(domain=ldom, nice=False, zero=False),
                axis=yaxis("left", BLUE_AX, ldom, llab, title)))
    ol = alt.Chart(odf).mark_line(color=ORANGE_LINE, strokeWidth=2.7, clip=True).encode(
        x=xenc,
        y=alt.Y("v:Q", scale=alt.Scale(domain=rdom, nice=False, zero=False),
                axis=yaxis("right", ORANGE_AX, rdom, rlab, None)))
    return alt.layer(bl, ol).resolve_scale(y="independent").properties(
        width=w, height=h, view=alt.ViewBackground(stroke=FRAME, strokeWidth=1.2))


def spacer(w, h, text="", off=0):
    df = pd.DataFrame({"t": [text]})
    return alt.Chart(df).mark_text(font=FONT, fontSize=18, color="black", align="center",
                                   baseline="middle").encode(
        text="t:N", x=alt.value(w / 2.0), y=alt.value(off)).properties(
        width=w, height=h, view=alt.ViewBackground(strokeOpacity=0, strokeWidth=0))


PANEL_A = dict(caption="(a)\u00a0\u00a0HRB", titles=A_TITLES, ldom=A_LDOM, llab=A_LLAB, rdoms=A_RDOMS,
               rlabs=A_RLABS, xdom=A_XDOM, xticks=A_XTICKS, h=29, gap=12.5, cap_h=88, cap_off=52,
               blue=[ev(1951, 2015, A_B1), ev(1951, 2015, A_B2), ev(1951, 2015, A_B3), ev(1951, 2015, A_B4),
                     ex(A_B5_YEARS, A_B5), ex(A_BR_YEARS, A_BR)],
               orange=[ev(1951, 2019, A_O1), ev(1951, 2019, A_O2), ev(1951, 2019, A_O3), ev(1951, 2019, A_O4),
                       ev(1951, 2019, A_O5), ex(A_OR_YEARS, A_OR)])
PANEL_C = dict(caption="(c)\u00a0\u00a0FJ", titles=C_TITLES, ldom=C_LDOM, llab=C_LLAB, rdoms=C_RDOMS,
               rlabs=C_RLABS, xdom=C_XDOM, xticks=C_XTICKS, h=29, gap=12.5, cap_h=93.5, cap_off=54.5,
               blue=[ev(1960, 2015, C_B1), ev(1960, 2015, C_B2), ex(C_B3_YEARS, C_B3), ex(C_B4_YEARS, C_B4),
                     ex(C_B5_YEARS, C_B5), ex(C_BR_YEARS, C_BR)],
               orange=[ev(1960, 2019, C_O1), ev(1960, 2019, C_O2), ev(1960, 2019, C_O3), ev(1960, 2019, C_O4),
                       ev(1960, 2019, C_O5), ex(C_OR_YEARS, C_OR)])
PANEL_E = dict(caption="(e)\u00a0\u00a0MDJ", titles=E_TITLES, ldom=E_LDOM, llab=E_LLAB, rdoms=E_RDOMS,
               rlabs=E_RLABS, xdom=E_XDOM, xticks=E_XTICKS, h=29, gap=12.5, cap_h=94.5, cap_off=58.5,
               blue=[ev(1960, 2015, E_B1), ex(E_B2_YEARS, E_B2), ex(E_B3_YEARS, E_B3), ex(E_B4_YEARS, E_B4),
                     ex(E_B5_YEARS, E_B5), ex(E_BR_YEARS, E_BR)],
               orange=[ev(1960, 2019, E_O1), ev(1960, 2019, E_O2), ex(E_O3_YEARS, E_O3), ex(E_O4_YEARS, E_O4),
                       ex(E_O5_YEARS, E_O5), ex(E_OR_YEARS, E_OR)])
PANEL_G = dict(caption="(g)\u00a0\u00a0YC", titles=G_TITLES, ldom=G_LDOM, llab=G_LLAB, rdoms=G_RDOMS,
               rlabs=G_RLABS, xdom=G_XDOM, xticks=G_XTICKS, h=29, gap=12.5, cap_h=62, cap_off=54,
               blue=[ev(1973, 2015, G_B1), ex(G_B2_YEARS, G_B2), ex(G_B3_YEARS, G_B3), ex(G_B4_YEARS, G_B4),
                     ex(G_B5_YEARS, G_B5), ex(G_BR_YEARS, G_BR)],
               orange=[ev(1973, 2019, G_O1), ev(1973, 2019, G_O2), ex(G_O3_YEARS, G_O3), ex(G_O4_YEARS, G_O4),
                       ex(G_O5_YEARS, G_O5), ex(G_OR_YEARS, G_OR)])
PANEL_B = dict(caption="(b)\u00a0\u00a0BQ", titles=B_TITLES, ldom=B_LDOM, llab=B_LLAB, rdoms=B_RDOMS,
               rlabs=B_RLABS, xdom=B_XDOM, xticks=B_XTICKS, h=26.5, gap=9.7, cap_h=84.5, cap_off=45,
               blue=[ev(1961, 2015, B_B1), ev(1961, 2015, B_B2), ex(B_B3_YEARS, B_B3), ex(B_B4_YEARS, B_B4),
                     ex(B_B5_YEARS, B_B5), ex(B_B6_YEARS, B_B6), ex(B_BR_YEARS, B_BR)],
               orange=[ev(1961, 2019, B_O1), ev(1961, 2019, B_O2), ex(B_O3_YEARS, B_O3), ev(1961, 2019, B_O4),
                       ev(1961, 2019, B_O5), ev(1961, 2019, B_O6), ex(B_OR_YEARS, B_OR)])
PANEL_D = dict(caption="(d)\u00a0\u00a0MH", titles=D_TITLES, ldom=D_LDOM, llab=D_LLAB, rdoms=D_RDOMS,
               rlabs=D_RLABS, xdom=D_XDOM, xticks=D_XTICKS, h=30, gap=11.6, cap_h=89, cap_off=50,
               blue=[ev(1958, 2015, D_B1), ev(1958, 2015, D_B2), ex(D_B3_YEARS, D_B3), ex(D_B4_YEARS, D_B4),
                     ex(D_B5_YEARS, D_B5), ex(D_BR_YEARS, D_BR)],
               orange=[ev(1958, 2019, D_O1), ev(1958, 2019, D_O2), ex(D_O3_YEARS, D_O3), ex(D_O4_YEARS, D_O4),
                       ex(D_O5_YEARS, D_O5), ex(D_OR_YEARS, D_OR)])
PANEL_F = dict(caption="(f)\u00a0\u00a0QQHR", titles=F_TITLES, ldom=F_LDOM, llab=F_LLAB, rdoms=F_RDOMS,
               rlabs=F_RLABS, xdom=F_XDOM, xticks=F_XTICKS, h=22, gap=27, cap_h=100, cap_off=76,
               blue=[ev(1984, 2015, F_B1), ev(1984, 2015, F_B2), ex(F_B3_YEARS, F_B3), ex(F_B4_YEARS, F_B4),
                     ex(F_BR_YEARS, F_BR)],
               orange=[ev(1984, 2019, F_O1), ev(1984, 2019, F_O2), ex(F_O3_YEARS, F_O3), ex(F_O4_YEARS, F_O4),
                       ex(F_OR_YEARS, F_OR)])


def column(panels, w):
    items = []
    for p in panels:
        n = len(p["titles"])
        for i in range(n):
            items.append(sub(p["titles"][i], p["blue"][i], p["orange"][i], p["ldom"], p["llab"],
                             p["rdoms"][i], p["rlabs"][i], p["xdom"], p["xticks"], w, p["h"], i == n - 1))
            if i < n - 1:
                items.append(spacer(w, p["gap"]))
        items.append(spacer(w, p["cap_h"], p["caption"], p["cap_off"]))
    return alt.vconcat(*items, spacing=0, bounds="flush")


left = column([PANEL_A, PANEL_C, PANEL_E, PANEL_G], 263)
right = column([PANEL_B, PANEL_D, PANEL_F], 258)

chart = alt.hconcat(left, right, spacing=14).properties(
    padding={"left": 6, "top": 7, "right": 0, "bottom": 0}
).configure_view(stroke=None).configure(background="white")

chart.save("out.html", embed_options={"renderer": "svg", "actions": False})
